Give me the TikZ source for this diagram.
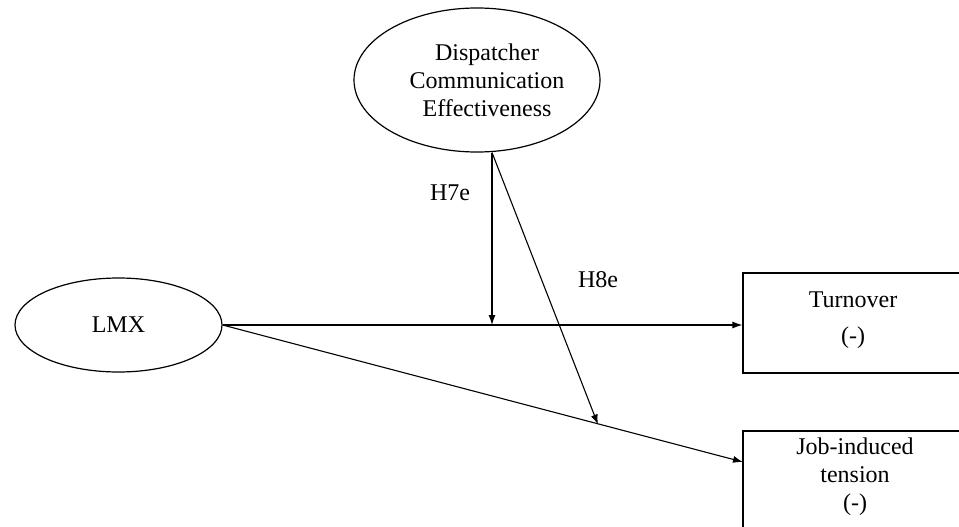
\documentclass[tikz,border=0pt]{standalone}
\usepackage{fontspec}
\setmainfont{Liberation Serif}
\usetikzlibrary{arrows.meta,shapes.geometric}
\begin{document}
\begin{tikzpicture}[x=1pt,y=-1pt,
  every node/.style={font=\fontsize{24}{28}\selectfont, align=center},
  latent/.style={draw, ellipse, line width=1.2pt, inner sep=0pt},
  outbox/.style={draw, rectangle, line width=1.2pt, inner sep=0pt},
  conn/.style={line width=1.1pt, -{Latex[length=10pt,width=7pt]}}]
\useasboundingbox (0,0) rectangle (959,527);
\clip (0,0) rectangle (959,527);
\node[latent, minimum width=246pt, minimum height=144pt] (dce) at (477,80) {};
\node at (487,80) {Dispatcher\\Communication\\Effectiveness};
\node[latent, minimum width=207pt, minimum height=94pt] (lmx) at (118.5,325) {LMX};
\node[outbox, minimum width=222pt, minimum height=100pt] (turn) at (854,323) {};
\node at (853,320) {Turnover\\[8pt](-)};
\node[outbox, minimum width=222pt, minimum height=150pt] (job) at (854,506) {};
\node at (855,477) {Job-induced\\tension\\(-)};
\coordinate (top) at (492,152.5);
\coordinate (m1) at (492,325);
\coordinate (m2) at (598,424.5);
\coordinate (jt) at (743,462);
\draw[conn] (lmx.east) -- (lmx.east -| turn.west);
\draw[conn] (lmx.east) -- (jt);
\draw[conn] (top) -- (m1);
\draw[conn] (top) -- (m2);
\node at (450,193) {H7e};
\node at (598,280) {H8e};
\end{tikzpicture}
\end{document}
